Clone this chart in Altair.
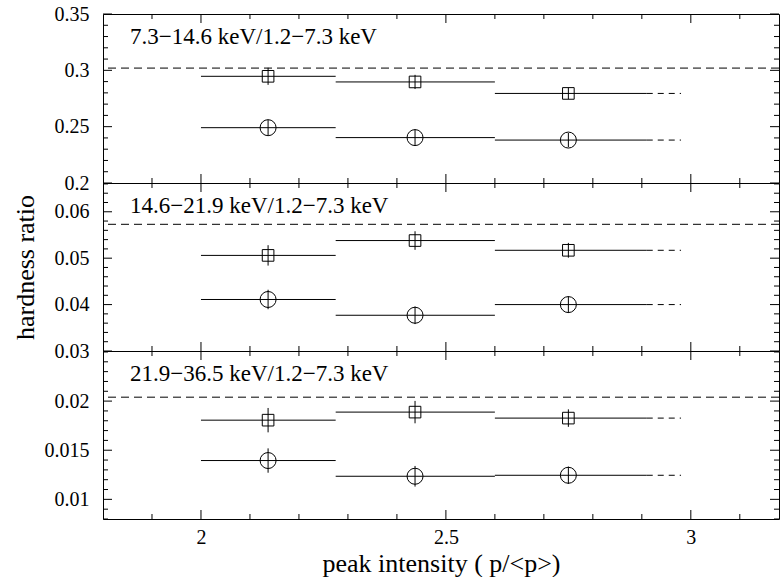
import altair as alt
import pandas as pd

FONT = "Liberation Serif"

# ---- data ----
bin_lo = [2.0, 2.275, 2.6]
bin_hi = [2.275, 2.6, 2.91]
bin_mark = [2.137, 2.437, 2.75]
bin_ext = 2.98

panel_labels = [
    "7.3\u221214.6 keV/1.2\u22127.3 keV",
    "14.6\u221221.9 keV/1.2\u22127.3 keV",
    "21.9\u221236.5 keV/1.2\u22127.3 keV",
]
square_vals = [
    [0.2947, 0.2897, 0.2795],
    [0.0506, 0.0538, 0.0517],
    [0.01806, 0.01888, 0.01827],
]
square_errs = [
    [0.0076, 0.0063, 0.0050],
    [0.0022, 0.0020, 0.0016],
    [0.00124, 0.00114, 0.00089],
]
circle_vals = [
    [0.2491, 0.2403, 0.2381],
    [0.0411, 0.0377, 0.0400],
    [0.01395, 0.01235, 0.01245],
]
circle_errs = [
    [0.0070, 0.0073, 0.0063],
    [0.0021, 0.0019, 0.0018],
    [0.00124, 0.00105, 0.00088],
]
ref_levels = [0.302, 0.0573, 0.0204]

# ---- axes ----
y_domains = [[0.2, 0.35], [0.03, 0.0662], [0.008, 0.0251]]
y_major_ticks = [
    [0.2, 0.25, 0.3, 0.35],
    [0.03, 0.04, 0.05, 0.06],
    [0.01, 0.015, 0.02],
]
y_minor_ticks = [
    [0.21, 0.22, 0.23, 0.24, 0.26, 0.27, 0.28, 0.29, 0.31, 0.32, 0.33, 0.34],
    [0.032, 0.034, 0.036, 0.038, 0.042, 0.044, 0.046, 0.048, 0.052, 0.054,
     0.056, 0.058, 0.062, 0.064, 0.066],
    [0.008, 0.009, 0.011, 0.012, 0.013, 0.014, 0.016, 0.017, 0.018, 0.019,
     0.021, 0.022, 0.023, 0.024, 0.025],
]
y_formats = [".2~f", ".2~f", ".3~f"]
x_domain = [1.8, 3.18]
x_major_ticks = [2.0, 2.5, 3.0]
x_minor_ticks = [1.9, 2.1, 2.2, 2.3, 2.4, 2.6, 2.7, 2.8, 2.9, 3.1]
panel_heights = [169, 168, 168]
y_title = "hardness ratio"
x_title = "peak intensity ( p/<p>)"

W = 676
MAJ = 9
MIN = 5
LABEL_SIZE = 20
TITLE_SIZE = 26
common = dict(
    domain=False, grid=False, ticks=False,
    labelColor="black", labelFont=FONT, labelFontSize=LABEL_SIZE,
    titleFont=FONT, titleFontSize=TITLE_SIZE, titleColor="black",
    titleFontWeight="normal", labelOverlap=False, labelFlush=False,
)


def panel(i):
    H = panel_heights[i]
    rows = []
    for k in range(3):
        for kind, vals, errs in (("square", square_vals, square_errs),
                                 ("circle", circle_vals, circle_errs)):
            rows.append(dict(kind=kind, lo=bin_lo[k], hi=bin_hi[k],
                             xc=bin_mark[k], val=vals[i][k], err=errs[i][k],
                             last=(k == 2), ext=bin_ext))
    df = pd.DataFrame(rows)
    df["ylo"] = df["val"] - df["err"]
    df["yhi"] = df["val"] + df["err"]

    xs = alt.Scale(domain=x_domain, nice=False, zero=False)
    ys = alt.Scale(domain=y_domains[i], nice=False, zero=False)
    bottom = i == 2
    base = alt.Chart(df)

    x_axis_opts = dict(common)
    x_axis_opts.update(orient="bottom", values=x_major_ticks, labels=bottom,
                       format=".1~f", title=(x_title if bottom else None),
                       labelPadding=8, titlePadding=3)
    y_axis_opts = dict(common)
    y_axis_opts.update(orient="left", values=y_major_ticks[i], labels=True,
                       format=y_formats[i],
                       title=(y_title if i == 1 else None),
                       labelPadding=14, titlePadding=16)

    bins = base.mark_rule(color="black", strokeWidth=1).encode(
        x=alt.X("lo:Q", scale=xs, axis=alt.Axis(**x_axis_opts)),
        x2="hi:Q",
        y=alt.Y("val:Q", scale=ys, axis=alt.Axis(**y_axis_opts)),
    )
    errs = base.mark_rule(color="black", strokeWidth=1).encode(
        x=alt.X("xc:Q", scale=xs, axis=None),
        y=alt.Y("ylo:Q", scale=ys, axis=None),
        y2="yhi:Q",
    )
    squares = base.transform_filter(alt.datum.kind == "square").mark_point(
        shape="square", size=135, filled=False, color="black", strokeWidth=1,
        opacity=1,
    ).encode(
        x=alt.X("xc:Q", scale=xs, axis=None),
        y=alt.Y("val:Q", scale=ys, axis=None),
    )
    circles = base.transform_filter(alt.datum.kind == "circle").mark_point(
        shape="circle", size=256, filled=False, color="black", strokeWidth=1,
        opacity=1,
    ).encode(
        x=alt.X("xc:Q", scale=xs, axis=None),
        y=alt.Y("val:Q", scale=ys, axis=None),
    )
    ext = base.transform_filter(alt.datum.last).mark_rule(
        color="black", strokeWidth=1, strokeDash=[6, 5]
    ).encode(
        x=alt.X("hi:Q", scale=xs, axis=None),
        x2="ext:Q",
        y=alt.Y("val:Q", scale=ys, axis=None),
    )
    ref = alt.Chart(pd.DataFrame({"ref": [ref_levels[i]]})).mark_rule(
        color="black", strokeWidth=1, strokeDash=[8, 5]
    ).encode(y=alt.Y("ref:Q", scale=ys, axis=None))
    label = alt.Chart(pd.DataFrame({"t": [panel_labels[i]]})).mark_text(
        align="left", baseline="alphabetic", font=FONT, fontSize=23,
        color="black",
    ).encode(x=alt.value(27), y=alt.value(30), text="t:N")

    # inward tick marks on all four sides
    ymaj = alt.Chart(pd.DataFrame({"v": y_major_ticks[i]}))
    ymin = alt.Chart(pd.DataFrame({"v": y_minor_ticks[i]}))
    xmaj = alt.Chart(pd.DataFrame({"v": x_major_ticks}))
    xmin = alt.Chart(pd.DataFrame({"v": x_minor_ticks}))
    tick_layers = []
    for src, L in ((ymaj, MAJ), (ymin, MIN)):
        yenc = alt.Y("v:Q", scale=ys, axis=None)
        tick_layers.append(src.mark_rule(color="black", strokeWidth=1).encode(
            y=yenc, x=alt.value(0), x2=alt.value(L)))
        tick_layers.append(src.mark_rule(color="black", strokeWidth=1).encode(
            y=yenc, x=alt.value(W), x2=alt.value(W - L)))
    for src, L in ((xmaj, MAJ), (xmin, MIN)):
        xenc = alt.X("v:Q", scale=xs, axis=None)
        tick_layers.append(src.mark_rule(color="black", strokeWidth=1).encode(
            x=xenc, y=alt.value(0), y2=alt.value(L)))
        tick_layers.append(src.mark_rule(color="black", strokeWidth=1).encode(
            x=xenc, y=alt.value(H), y2=alt.value(H - L)))

    return alt.layer(bins, errs, squares, circles, ext, ref, label,
                     *tick_layers).resolve_axis(
        x="independent", y="independent"
    ).properties(width=W, height=H)


chart = alt.vconcat(panel(0), panel(1), panel(2), spacing=0, bounds="flush").properties(
    padding={"left": 11, "top": 3, "right": 0, "bottom": 0}
).configure_view(stroke="black", strokeWidth=1)

chart.save("out.html", embed_options={"renderer": "svg", "actions": False})
